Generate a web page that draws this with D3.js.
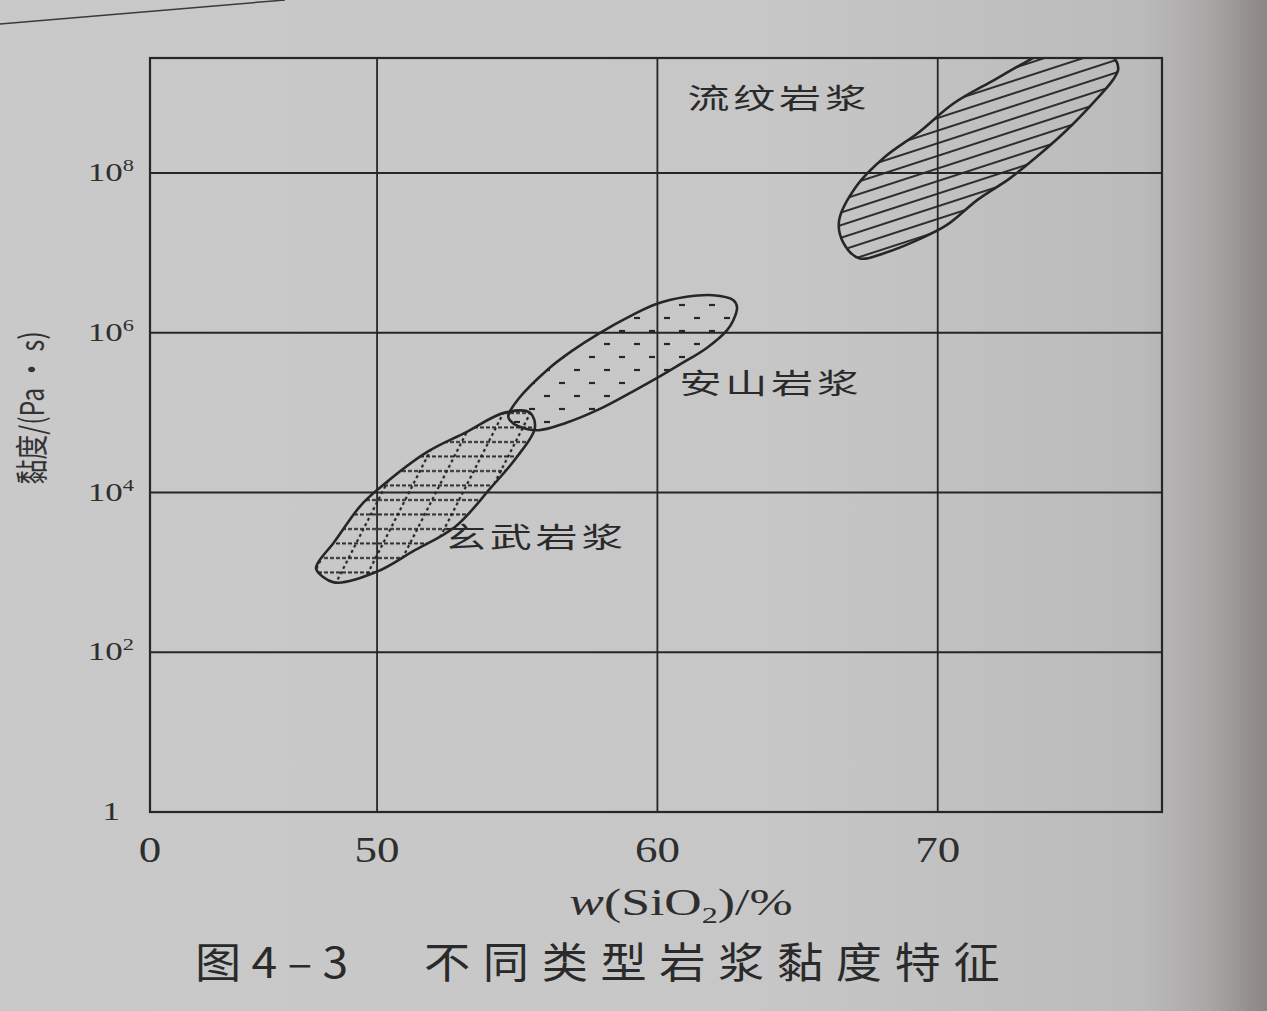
<!DOCTYPE html>
<html>
<head>
<meta charset="utf-8">
<script src="https://cdn.jsdelivr.net/npm/d3@7"></script>
<style>
  html, body { margin: 0; padding: 0; background: #c7c7c7; }
  svg { display: block; }
</style>
</head>
<body>
<svg id="chart" width="1267" height="1011"></svg>
<script>
// ---------- data ----------
// x axis is broken: the origin is labelled "0", then 50, 60, 70 % SiO2
const xOrigin = 41.9;
const xMax = 78;
const xTickValues = [41.9, 50, 60, 70];
const xTickLabels = ["0", "50", "60", "70"];
const xGridValues = [50, 60, 70];
const yTickExponents = [0, 2, 4, 6, 8];
const yGridExponents = [2, 4, 6, 8];
const yMaxExponent = 9.44;

// 玄武岩浆 (basaltic magma) outline: SiO2 %, log10 viscosity (Pa·s)
const basaltSiO2 = [47.83, 48.46, 50.0, 51.26, 52.8, 54.06, 55.0, 55.63, 55.45, 54.55, 53.15, 51.75, 50.1, 49.4, 48.46, 47.9];
const basaltLogV = [3.04, 2.875, 3.01, 3.26, 3.575, 4.06, 4.45, 4.81, 5.0, 5.0, 4.75, 4.5, 4.06, 3.83, 3.375, 3.125];

// 安山岩浆 (andesitic magma)
const andesiteSiO2 = [54.68, 55.04, 56.12, 56.94, 57.91, 59.1, 59.96, 61.04, 61.98, 62.7, 62.84, 62.7, 62.48, 61.76, 60.79, 60.07, 59.1, 57.91, 56.73, 55.76, 55.04, 54.75];
const andesiteLogV = [4.96, 5.17, 5.55, 5.77, 5.99, 6.22, 6.36, 6.45, 6.47, 6.41, 6.32, 6.15, 6.03, 5.81, 5.6, 5.45, 5.26, 5.04, 4.87, 4.78, 4.83, 4.9];

// 流纹岩浆 (rhyolitic magma)
const rhyoliteSiO2 = [67.22, 66.63, 66.48, 67.11, 68.11, 69.33, 70.56, 72.04, 73.04, 73.85, 75.07, 76.19, 76.44, 76.26, 75.52, 74.52, 73.52, 72.56, 71.44, 70.33, 69.33, 68.11];
const rhyoliteLogV = [6.93, 7.13, 7.4, 7.84, 8.2, 8.51, 8.87, 9.17, 9.37, 9.51, 9.55, 9.47, 9.31, 9.17, 8.87, 8.51, 8.2, 7.93, 7.67, 7.35, 7.17, 7.0];

const regionNames = ["玄武岩浆", "安山岩浆", "流纹岩浆"];
const labelSiO2 = [52.39, 60.79, 61.07];
const labelLogV = [3.305, 5.233, 8.80];

const xTitle = "SiO";
const yTitle = "黏度/(Pa • s)";
const captionNo = "图 4 – 3";
const captionText = "不同类型岩浆黏度特征";

// ---------- drawing ----------
const W = 1267, H = 1011;
const svg = d3.select("#chart");
const ink = "#262626";
const serif = "'Liberation Serif', 'DejaVu Serif', serif";
const cjk = "'Noto Sans CJK SC', sans-serif";

const x = d3.scaleLinear().domain([xOrigin, xMax]).range([150, 1162]);
const y = d3.scaleLog().domain([1, Math.pow(10, yMaxExponent)]).range([812, 58]);
const X0 = x(xOrigin), X1 = x(xMax), Y0 = y(1), Y1 = y(Math.pow(10, yMaxExponent));

const defs = svg.append("defs");

// paper background gradient
const bg = defs.append("linearGradient").attr("id", "paper").attr("x1", "0").attr("x2", "1").attr("y1", "0").attr("y2", "0");
bg.append("stop").attr("offset", "0%").attr("stop-color", "#c9c9c9");
bg.append("stop").attr("offset", "60%").attr("stop-color", "#c7c7c7");
bg.append("stop").attr("offset", "90%").attr("stop-color", "#bcbbbb");
bg.append("stop").attr("offset", "95.5%").attr("stop-color", "#a9a6a6");
bg.append("stop").attr("offset", "100%").attr("stop-color", "#8c8686");
svg.append("rect").attr("width", W).attr("height", H).attr("fill", "url(#paper)");

// header rule fragment of the page
svg.append("line").attr("x1", 0).attr("y1", 24).attr("x2", 285).attr("y2", 0)
  .attr("stroke", "#3a3a3a").attr("stroke-width", 1.5);

// clip to plot area
defs.append("clipPath").attr("id", "plotClip").append("rect")
  .attr("x", X0).attr("y", Y1).attr("width", X1 - X0).attr("height", Y0 - Y1);

// patterns
const hatch = defs.append("pattern").attr("id", "hatch").attr("patternUnits", "userSpaceOnUse")
  .attr("width", 12).attr("height", 12).attr("patternTransform", "rotate(-18)");
hatch.append("line").attr("x1", 0).attr("y1", 6).attr("x2", 12).attr("y2", 6)
  .attr("stroke", ink).attr("stroke-width", 1.9);

const dash = defs.append("pattern").attr("id", "dashes").attr("patternUnits", "userSpaceOnUse")
  .attr("width", 30).attr("height", 26);
dash.append("line").attr("x1", 4).attr("y1", 6).attr("x2", 10).attr("y2", 6).attr("stroke", ink).attr("stroke-width", 2.2);
dash.append("line").attr("x1", 19).attr("y1", 19).attr("x2", 25).attr("y2", 19).attr("stroke", ink).attr("stroke-width", 2.2);

const hDash = defs.append("pattern").attr("id", "hdash").attr("patternUnits", "userSpaceOnUse")
  .attr("width", 12).attr("height", 14.5);
hDash.append("line").attr("x1", 0).attr("y1", 7).attr("x2", 12).attr("y2", 7)
  .attr("stroke", ink).attr("stroke-width", 2).attr("stroke-dasharray", "4 2");

const dDash = defs.append("pattern").attr("id", "ddash").attr("patternUnits", "userSpaceOnUse")
  .attr("width", 24).attr("height", 12).attr("patternTransform", "rotate(27)");
dDash.append("line").attr("x1", 12).attr("y1", 0).attr("x2", 12).attr("y2", 12)
  .attr("stroke", ink).attr("stroke-width", 2.2).attr("stroke-dasharray", "3 3");

// grid lines
const grid = svg.append("g");
grid.selectAll(".vg").data(xGridValues).join("line")
  .attr("x1", d => x(d)).attr("x2", d => x(d)).attr("y1", Y1).attr("y2", Y0)
  .attr("stroke", ink).attr("stroke-width", 1.8);
grid.selectAll(".hg").data(yGridExponents).join("line")
  .attr("x1", X0).attr("x2", X1).attr("y1", d => y(Math.pow(10, d))).attr("y2", d => y(Math.pow(10, d)))
  .attr("stroke", ink).attr("stroke-width", 1.8);

// frame
svg.append("rect").attr("x", X0).attr("y", Y1).attr("width", X1 - X0).attr("height", Y0 - Y1)
  .attr("fill", "none").attr("stroke", ink).attr("stroke-width", 2.2);

// regions
const line = d3.line().x(d => x(d[0])).y(d => y(Math.pow(10, d[1]))).curve(d3.curveCatmullRomClosed.alpha(0.5));
const zipPts = (a, b) => a.map((v, i) => [v, b[i]]);
const regions = [
  { pts: zipPts(basaltSiO2, basaltLogV), fills: ["url(#hdash)", "url(#ddash)"] },
  { pts: zipPts(andesiteSiO2, andesiteLogV), fills: ["url(#dashes)"] },
  { pts: zipPts(rhyoliteSiO2, rhyoliteLogV), fills: ["url(#hatch)"] }
];
const rg = svg.append("g").attr("clip-path", "url(#plotClip)");
regions.forEach(r => {
  r.fills.forEach(f => rg.append("path").attr("d", line(r.pts)).attr("fill", f).attr("stroke", "none"));
});
regions.forEach(r => {
  rg.append("path").attr("d", line(r.pts)).attr("fill", "none").attr("stroke", ink).attr("stroke-width", 2.6);
});

// the printed page is photographed slightly stretched horizontally: text glyphs are widened
const place = (px, py, sx) => `translate(${px},${py}) scale(${sx},1)`;

// region labels
svg.selectAll(".rl").data(regionNames).join("text")
  .attr("transform", (d, i) => place(x(labelSiO2[i]), y(Math.pow(10, labelLogV[i])), 1.5))
  .attr("font-family", cjk).attr("font-size", 28)
  .attr("letter-spacing", 2.5).attr("fill", "#2a2a2a").text(d => d);

// y tick labels
const yl = svg.selectAll(".yl").data(yTickExponents).join("text")
  .attr("transform", d => place(d === 0 ? 120 : 134, y(Math.pow(10, d)) + 8, 1.4))
  .attr("text-anchor", "end").attr("font-family", serif).attr("font-size", 25).attr("fill", "#2e2e2e");
yl.each(function(d) {
  const t = d3.select(this);
  if (d === 0) { t.text("1"); }
  else {
    t.append("tspan").text("10");
    t.append("tspan").attr("font-size", 16).attr("dy", -10).text(d);
  }
});

// x tick labels
svg.selectAll(".xl").data(xTickValues).join("text")
  .attr("transform", d => place(x(d), 862, 1.25)).attr("text-anchor", "middle")
  .attr("font-family", serif).attr("font-size", 36).attr("fill", "#2e2e2e").text((d, i) => xTickLabels[i]);

// x title: w(SiO2)/%
const xt = svg.append("text").attr("transform", place(681, 915, 1.4)).attr("text-anchor", "middle")
  .attr("font-family", serif).attr("font-size", 37).attr("fill", "#2e2e2e");
xt.append("tspan").attr("font-style", "italic").text("w");
xt.append("tspan").text("(" + xTitle);
xt.append("tspan").attr("font-size", 23).attr("dy", 8).text("2");
xt.append("tspan").attr("dy", -8).text(")/%");

// y title (rotated, glyphs stretched across the page)
svg.append("text").attr("transform", "translate(44,408) scale(1.3,1) rotate(-90)").attr("text-anchor", "middle")
  .attr("font-family", cjk).attr("font-size", 25).attr("fill", "#333")
  .text(yTitle);

// caption
svg.append("text").attr("transform", place(195, 978, 1.1))
  .attr("font-family", cjk).attr("font-size", 42).attr("fill", "#2a2a2a")
  .text(captionNo);
svg.append("text").attr("transform", place(424, 978, 1.1))
  .attr("font-family", cjk).attr("font-size", 42).attr("letter-spacing", 11.5).attr("fill", "#2a2a2a")
  .text(captionText);
</script>
</body>
</html>
